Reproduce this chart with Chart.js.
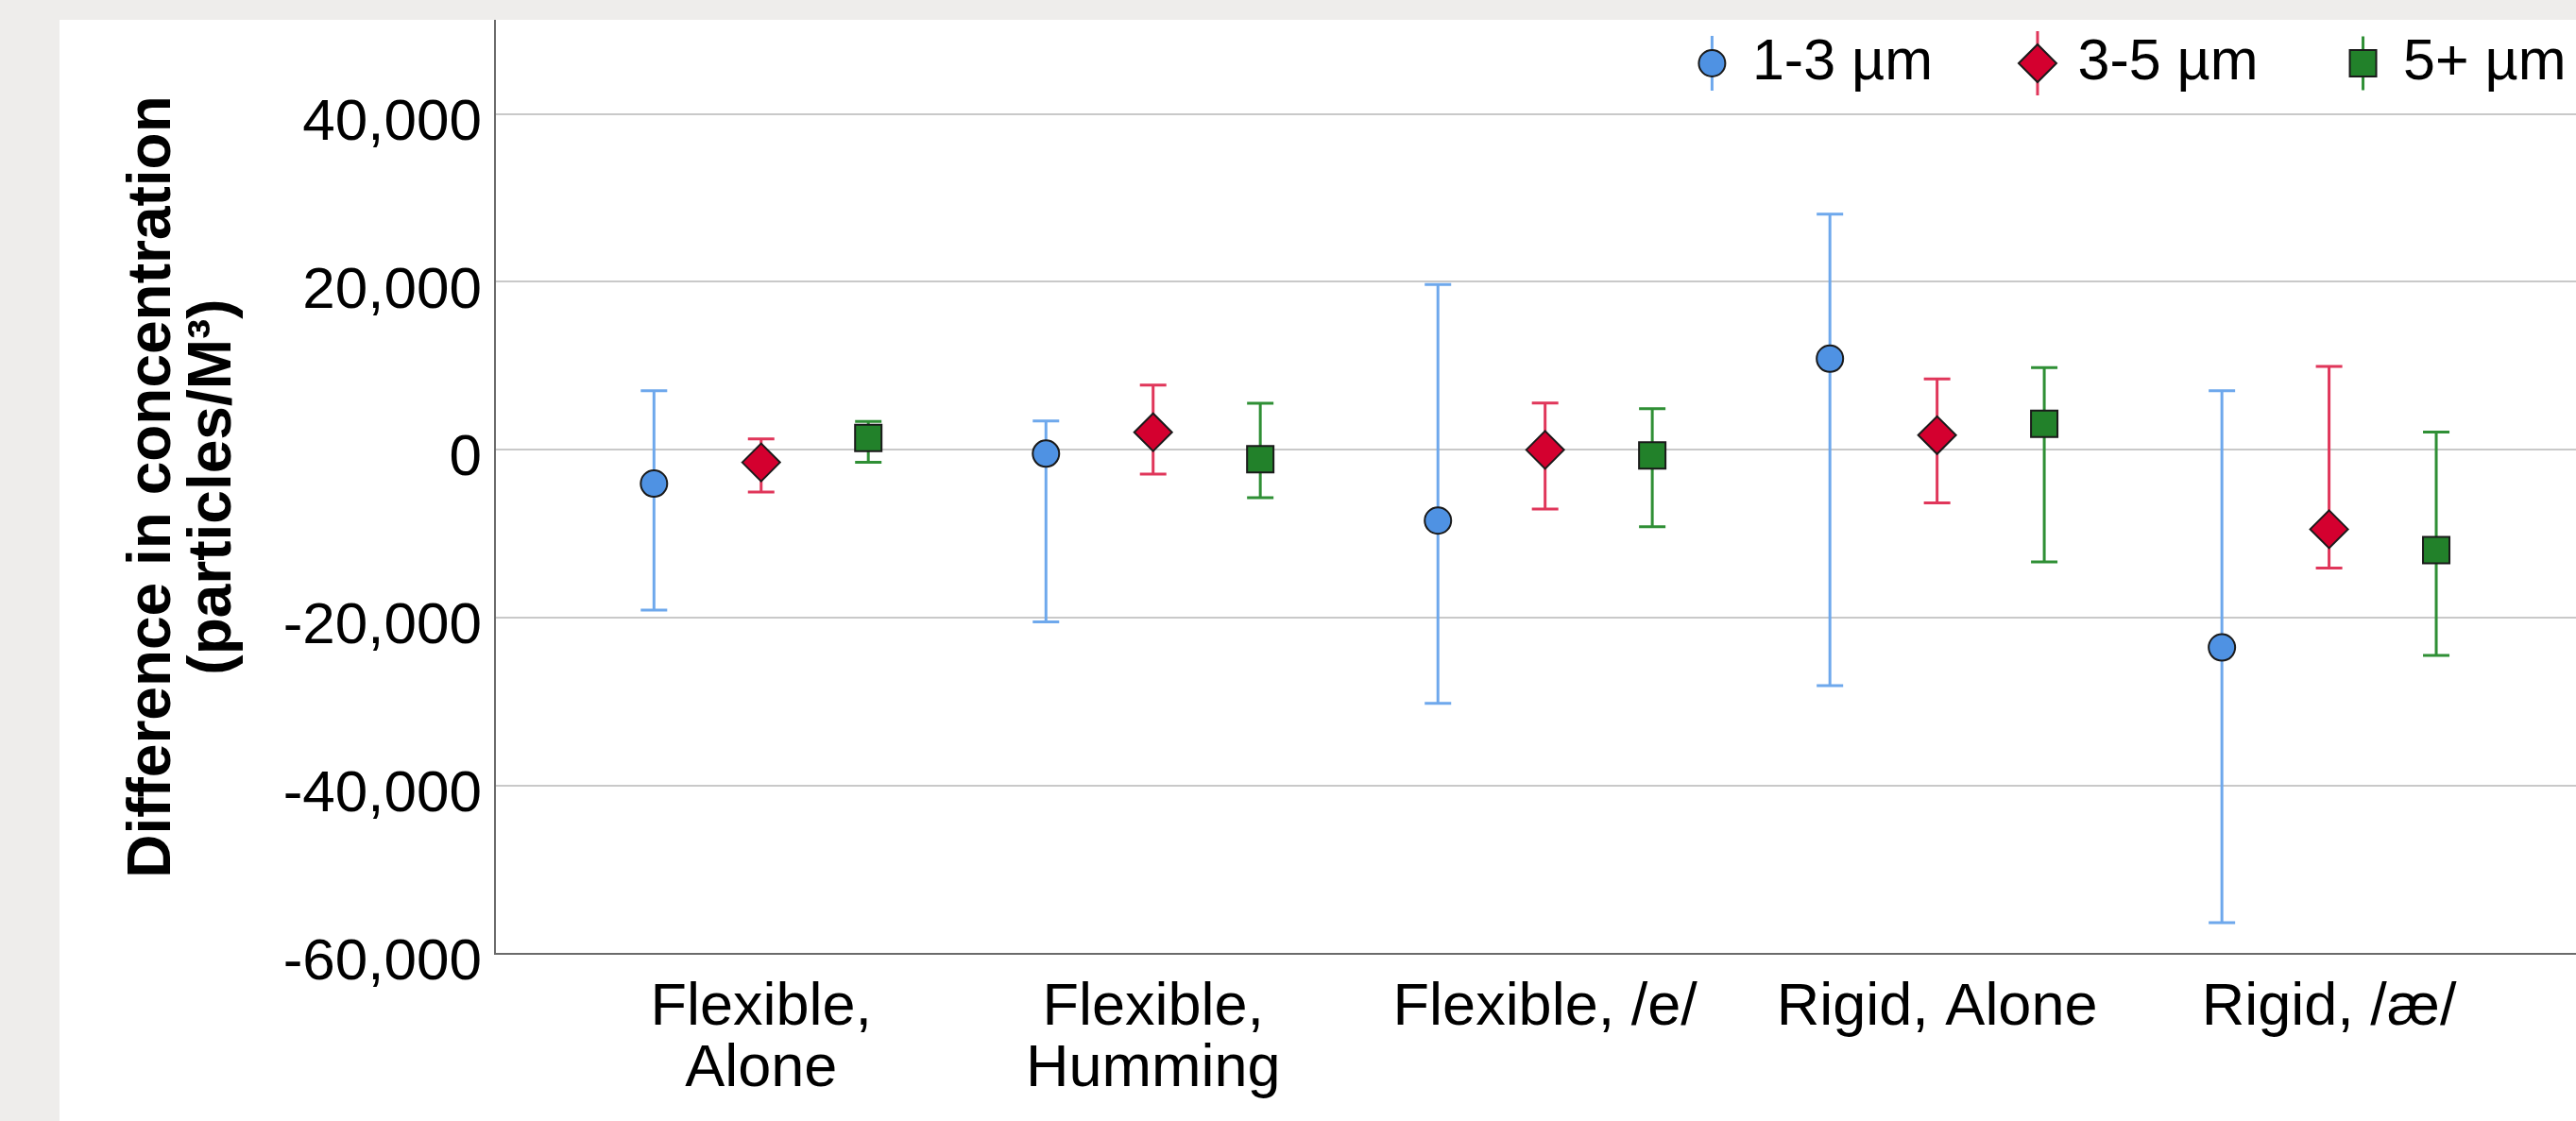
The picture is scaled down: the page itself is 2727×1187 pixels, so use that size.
<!DOCTYPE html>
<html>
<head>
<meta charset="utf-8">
<script src="https://cdn.jsdelivr.net/npm/chart.js@4.4.1/dist/chart.umd.min.js"></script>
<style>
  html, body { margin: 0; padding: 0; background: #eeedeb; overflow: hidden; width: 2727px; height: 1187px; }
  #panel { position: absolute; left: 63px; top: 21px; width: 2664px; height: 1166px; background: #fff; overflow: hidden; }
  #grafico { display: block; }
</style>
</head>
<body>
<div id="panel"><canvas id="grafico" width="2669" height="1166"></canvas></div>
<script>
const categorias = [["Flexible,", "Alone"], ["Flexible,", "Humming"], "Flexible, /e/", "Rigid, Alone", "Rigid, /æ/"];
const series = ["1-3 µm", "3-5 µm", "5+ µm"];

// medias y limites del intervalo (particulas/m3)
const media13 = [-4010, -450, -8420, 10860, -23520];
const bajo13 = [-19070, -20480, -30180, -28060, -56300];
const alto13 = [7050, 3450, 19700, 28060, 7030];

const media35 = [-1490, 2100, 0, 1750, -9450];
const bajo35 = [-5020, -2890, -7030, -6300, -14060];
const alto35 = [1320, 7720, 5580, 8450, 9940];

const media5 = [1430, -1120, -670, 3100, -11940];
const bajo5 = [-1490, -5700, -9150, -13330, -24480];
const alto5 = [3400, 5540, 4910, 9800, 2120];

const ticksY = [-60000, -40000, -20000, 0, 20000, 40000];

const fuente = "'Liberation Sans', Arial, sans-serif";
const desplazamientos = [-0.2734, 0, 0.2734];
const rellenos = ["#4f92e3", "#d4002f", "#22812a"];
const barras = ["#6ea8ec", "#e0365a", "#2f8f35"];
const estilos = ["circle", "rectRot", "rect"];
const radios = [14, 20, 19.8];
const alturaBarraLeyenda = [29, 34, 28.5];

const medias = [media13, media35, media5];
const bajos = [bajo13, bajo35, bajo5];
const altos = [alto13, alto35, alto5];

const datasets = series.map((nombre, s) => ({
  label: nombre,
  data: medias[s].map((v, i) => ({ x: i + desplazamientos[s], y: v })),
  showLine: false,
  pointStyle: estilos[s],
  pointRadius: radios[s],
  pointHoverRadius: radios[s],
  backgroundColor: rellenos[s],
  borderColor: "#1a1a1a",
  pointBorderWidth: 2,
  bajos: bajos[s],
  altos: altos[s],
  colorBarra: barras[s],
}));

const barrasError = {
  id: "barrasError",
  beforeDatasetsDraw(chart) {
    const ctx = chart.ctx;
    const xs = chart.scales.x;
    const ys = chart.scales.y;
    ctx.save();
    ctx.lineWidth = 3;
    chart.data.datasets.forEach((ds) => {
      ctx.strokeStyle = ds.colorBarra;
      ds.data.forEach((p, i) => {
        const x = xs.getPixelForValue(p.x);
        const y1 = ys.getPixelForValue(ds.bajos[i]);
        const y2 = ys.getPixelForValue(ds.altos[i]);
        ctx.beginPath();
        ctx.moveTo(x, y1);
        ctx.lineTo(x, y2);
        ctx.moveTo(x - 14, y1);
        ctx.lineTo(x + 14, y1);
        ctx.moveTo(x - 14, y2);
        ctx.lineTo(x + 14, y2);
        ctx.stroke();
      });
    });
    ctx.restore();
  },
};

// leyenda dentro del area del grafico, arriba a la derecha
const leyenda = {
  id: "leyenda",
  afterDraw(chart) {
    const ctx = chart.ctx;
    const y = chart.chartArea.top + 46;
    let x = chart.chartArea.right - 15.5;
    ctx.save();
    ctx.font = "61px " + fuente;
    ctx.textBaseline = "middle";
    for (let s = series.length - 1; s >= 0; s--) {
      const w = ctx.measureText(series[s]).width;
      const xt = x - w;
      ctx.fillStyle = "#000";
      ctx.fillText(series[s], xt, y);
      const xm = xt - 42.5;
      ctx.strokeStyle = barras[s];
      ctx.lineWidth = 3;
      ctx.beginPath();
      ctx.moveTo(xm, y - alturaBarraLeyenda[s]);
      ctx.lineTo(xm, y + alturaBarraLeyenda[s]);
      ctx.stroke();
      ctx.fillStyle = rellenos[s];
      ctx.strokeStyle = "#1a1a1a";
      ctx.lineWidth = 2;
      Chart.helpers.drawPoint(ctx, { pointStyle: estilos[s], radius: radios[s], rotation: 0, borderWidth: 2 }, xm, y);
      x = xm - 111;
    }
    ctx.restore();
  },
};

const ctx = document.getElementById("grafico").getContext("2d");
new Chart(ctx, {
  type: "scatter",
  data: { datasets },
  plugins: [barrasError, leyenda],
  options: {
    responsive: false,
    animation: false,
    devicePixelRatio: 1,
    layout: { padding: 0, autoPadding: false },
    plugins: {
      tooltip: { enabled: false },
      legend: { display: false },
    },
    scales: {
      x: {
        type: "linear",
        min: -0.679,
        max: 4.642,
        afterFit(s) {
          s.height = 177;
          s.paddingLeft = 0;
          s.paddingRight = 0;
        },
        afterBuildTicks(s) { s.ticks = categorias.map((_, i) => ({ value: i })); },
        grid: { display: false, drawTicks: false },
        border: { display: true, color: "#6b6b6b", width: 2 },
        ticks: {
          autoSkip: false,
          maxRotation: 0,
          padding: 25,
          color: "#000",
          font: { family: fuente, size: 63, lineHeight: 65 / 63 },
          callback: (v) => categorias[v],
        },
      },
      y: {
        min: -60000,
        max: 51200,
        afterFit(s) {
          s.width = 461;
          s.paddingTop = 0;
          s.paddingBottom = 0;
        },
        afterBuildTicks(s) { s.ticks = ticksY.map((v) => ({ value: v })); },
        grid: { color: "#c9c9c9", lineWidth: 2, drawTicks: false },
        border: { display: true, color: "#6b6b6b", width: 2 },
        ticks: {
          padding: 14,
          labelOffset: 10,
          color: "#000",
          font: { family: fuente, size: 62 },
          callback: (v) => v.toLocaleString("en-US"),
        },
        title: {
          display: true,
          text: ["Difference in concentration", "(particles/M³)"],
          color: "#000",
          font: { family: fuente, size: 64, weight: "bold", lineHeight: 1 },
          padding: { top: 67, bottom: 0 },
        },
      },
    },
  },
});
</script>
</body>
</html>
